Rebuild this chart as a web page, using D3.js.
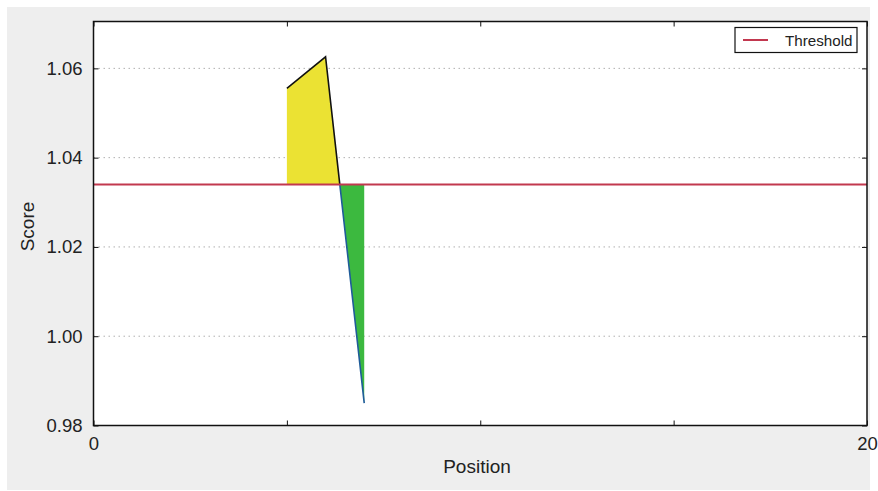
<!DOCTYPE html>
<html><head><meta charset="utf-8">
<script src="https://cdn.jsdelivr.net/npm/d3@7"></script>
<style>body{margin:0;background:#fff;} text{font-family:"Liberation Sans",Arial,sans-serif;fill:#222;}</style>
</head><body>
<svg id="c" width="878" height="491"></svg>
<script>
const positions = [5, 6, 7];
const scores = [1.0555, 1.0626, 0.985];
const threshold = 1.0340;
const yTicks = [0.98, 1.00, 1.02, 1.04, 1.06];
const xTicks = [0, 5, 10, 15, 20];
const xTickLabels = ["0", "", "", "", "20"];

const svg = d3.select("#c");
svg.append("rect").attr("x",7).attr("y",7).attr("width",863).attr("height",483).attr("fill","#eeeeee");

const L=93.5, R=867, T=21.5, B=425.5;
const x = d3.scaleLinear().domain([0,20]).range([L,R]);
const y = d3.scaleLinear().domain([0.98,1.0705]).range([B,T]);

svg.append("rect").attr("x",L).attr("y",T).attr("width",R-L).attr("height",B-T).attr("fill","#fff");

// grid
svg.append("g").selectAll("line").data(yTicks.filter(d=>d>0.98)).join("line")
  .attr("x1",L).attr("x2",R).attr("y1",d=>y(d)).attr("y2",d=>y(d))
  .attr("stroke","#b0b0b0").attr("stroke-width",1).attr("stroke-dasharray","1.5,3.5");

// fills
const data = positions.map((p,i)=>({x:p,y:scores[i]}));
const defs = svg.append("defs");
defs.append("clipPath").attr("id","above").append("rect").attr("x",L).attr("y",T).attr("width",R-L).attr("height",y(threshold)-T);
defs.append("clipPath").attr("id","below").append("rect").attr("x",L).attr("y",y(threshold)).attr("width",R-L).attr("height",B-y(threshold));
const area = d3.area().x(d=>x(d.x)).y0(y(threshold)).y1(d=>y(d.y));
svg.append("path").datum(data).attr("d",area).attr("fill","#ebe233").attr("clip-path","url(#above)");
svg.append("path").datum(data).attr("d",area).attr("fill","#3cb93f").attr("clip-path","url(#below)");
const line = d3.line().x(d=>x(d.x)).y(d=>y(d.y));
svg.append("path").datum(data).attr("d",line).attr("fill","none").attr("stroke","#111").attr("stroke-width",1.6).attr("clip-path","url(#above)");
svg.append("path").datum(data).attr("d",line).attr("fill","none").attr("stroke","#1f5c99").attr("stroke-width",1.6).attr("clip-path","url(#below)");

// threshold
svg.append("line").attr("x1",L).attr("x2",R).attr("y1",y(threshold)).attr("y2",y(threshold))
  .attr("stroke","#c2384f").attr("stroke-width",2);

// axes frame
svg.append("rect").attr("x",L).attr("y",T).attr("width",R-L).attr("height",B-T).attr("fill","none").attr("stroke","#111").attr("stroke-width",1.5);

// ticks inward
const yAxisL = d3.axisLeft(y).tickValues(yTicks).tickSize(-5).tickPadding(11).tickFormat(d3.format(".2f"));
const gy = svg.append("g").attr("transform",`translate(${L},0)`).call(yAxisL);
gy.select(".domain").remove();
gy.selectAll("text").style("font-size","18.5px").attr("fill","#222");
gy.selectAll("line").attr("stroke","#111");
const gyr = svg.append("g").attr("transform",`translate(${R},0)`).call(d3.axisRight(y).tickValues(yTicks).tickSize(-5).tickFormat(""));
gyr.select(".domain").remove(); gyr.selectAll("line").attr("stroke","#111");

const gx = svg.append("g").attr("transform",`translate(0,${B})`).call(d3.axisBottom(x).tickValues(xTicks).tickSize(-5).tickPadding(11).tickFormat((d,i)=>xTickLabels[i]));
gx.select(".domain").remove();
gx.selectAll("text").style("font-size","18.5px").attr("fill","#222");
gx.selectAll("line").attr("stroke","#111");
const gxt = svg.append("g").attr("transform",`translate(0,${T})`).call(d3.axisTop(x).tickValues(xTicks).tickSize(-5).tickFormat(""));
gxt.select(".domain").remove(); gxt.selectAll("line").attr("stroke","#111");

// labels
svg.append("text").attr("x",477).attr("y",472.5).attr("text-anchor","middle").style("font-size","19px").text("Position");
svg.append("text").attr("transform",`translate(34,226.5) rotate(-90)`).attr("text-anchor","middle").style("font-size","19px").text("Score");

// legend
svg.append("rect").attr("x",735).attr("y",27.5).attr("width",122).attr("height",25).attr("fill","#fff").attr("stroke","#111").attr("stroke-width",1.2);
svg.append("line").attr("x1",743).attr("x2",768).attr("y1",40).attr("y2",40).attr("stroke","#c2384f").attr("stroke-width",2);
svg.append("text").attr("x",785).attr("y",45.5).style("font-size","15.2px").text("Threshold");
</script>
</body></html>
